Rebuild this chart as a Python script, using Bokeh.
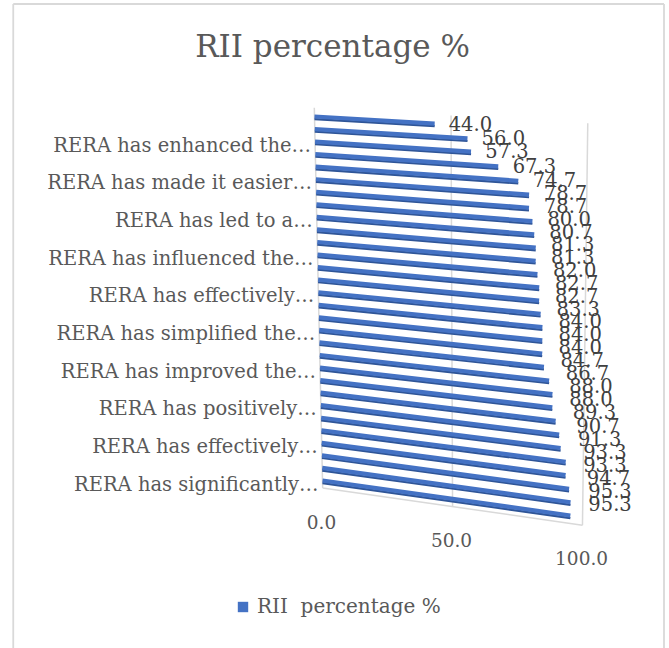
from bokeh.plotting import figure
from bokeh.models import Range1d, Legend, LegendItem, ColumnDataSource
from bokeh.core.properties import value
from bokeh.embed import file_html
from bokeh.resources import INLINE

# RII scores, listed from the first category (front, bottom) to the last (back, top)
rii_values = [95.3, 95.3, 94.7, 93.3, 93.3, 91.3, 90.7, 89.3, 88.0, 88.0,
              86.7, 84.7, 84.0, 84.0, 84.0, 83.3, 82.7, 82.7, 82.0, 81.3,
              81.3, 80.7, 80.0, 78.7, 78.7, 74.7, 67.3, 57.3, 56.0, 44.0]

# Category axis labels (every third category carries a label)
category_labels = ["RERA has significantly\u2026", "RERA has effectively\u2026",
                   "RERA has positively\u2026", "RERA has improved the\u2026",
                   "RERA has simplified the\u2026", "RERA has effectively\u2026",
                   "RERA has influenced the\u2026", "RERA has led to a\u2026",
                   "RERA has made it easier\u2026", "RERA has enhanced the\u2026"]
label_step = 3

value_ticks = [0.0, 50.0, 100.0]
value_tick_labels = ["0.0", "50.0", "100.0"]

series_name = "RII  percentage %"
chart_title = "RII  percentage %"

FONT = "DejaVu Serif"
TEXT_GRAY = "#595959"
LABEL_GRAY = "#404040"
BAR_BLUE = "#4472C4"
BAR_SHADE = "#2F5597"
GRID_GRAY = "#D9D9D9"

W, H = 669, 648
BOX_L, BOX_R, BOX_T = 12.75, 663.5, 3.5   # chart-area border

# pixel anchors of the tilted (3-D look) plot area
ORIGIN_PX = 314      # back wall, value 0
UNIT_PX = 2.67       # pixels per value unit
FRONT_PY = 480       # first category row
CAT_PX = 12.552      # pixels per category row
N = len(rii_values)


def px2x(px):
    return (px - ORIGIN_PX) / UNIT_PX


def py2y(py):
    return (FRONT_PY - py) / CAT_PX


def project(v, c):
    """Tilted position of value v on category row c."""
    t = c / (N - 1)
    x = 3.0 * (1 - t) + v * (0.974 + 0.049 * t)
    y = c - v * (0.367 - 0.207 * t) / CAT_PX
    return x, y


p = figure(width=W, height=H,
           x_range=Range1d(px2x(0), px2x(W)),
           y_range=Range1d(py2y(H), py2y(0)),
           x_axis_type=None, y_axis_type=None,
           toolbar_location=None, output_backend="svg",
           min_border=0, outline_line_color=None,
           background_fill_color="white", border_fill_color="white")

# chart-area border (left, top, right)
p.segment(x0=[px2x(BOX_L), px2x(BOX_L), px2x(BOX_R)],
          y0=[py2y(H + 2), py2y(BOX_T), py2y(BOX_T)],
          x1=[px2x(BOX_L), px2x(BOX_R), px2x(BOX_R)],
          y1=[py2y(BOX_T), py2y(BOX_T), py2y(H + 2)],
          line_color=GRID_GRAY, line_width=1.8)

# title
p.text(x=[px2x(337)], y=[py2y(45)], text=[chart_title],
       text_align="center", text_baseline="middle",
       text_font=value(FONT), text_font_size="31px", text_color=TEXT_GRAY)

# back-wall gridlines and floor edge
gx0, gy0, gx1, gy1 = [], [], [], []
for v in value_ticks:
    xa, ya = project(v, N - 1 + 0.7)
    xb, yb = project(v, -0.6)
    gx0.append(xa); gy0.append(ya); gx1.append(xb); gy1.append(yb)
fa = project(value_ticks[0], -0.6)
fb = project(value_ticks[-1], -0.6)
gx0.append(fa[0]); gy0.append(fa[1]); gx1.append(fb[0]); gy1.append(fb[1])
p.segment(x0=gx0, y0=gy0, x1=gx1, y1=gy1, line_color=GRID_GRAY, line_width=1.5)

# bars
cats = list(range(N))
x0s, y0s, x1s, y1s = [], [], [], []
for c, v in zip(cats, rii_values):
    a = project(0, c)
    b = project(v, c)
    x0s.append(a[0]); y0s.append(a[1]); x1s.append(b[0]); y1s.append(b[1])
shade = 2.6 / CAT_PX
bars = ColumnDataSource(dict(x0=x0s, y0=y0s, x1=x1s, y1=y1s,
                             y0s=[y - shade for y in y0s],
                             y1s=[y - shade for y in y1s]))
p.segment(x0="x0", y0="y0s", x1="x1", y1="y1s", source=bars,
          line_color=BAR_SHADE, line_width=2.2)
p.segment(x0="x0", y0="y0", x1="x1", y1="y1", source=bars,
          line_color=BAR_BLUE, line_width=4.2)

# value labels
lx, ly, lt = [], [], []
for c, v, xe, ye in zip(cats, rii_values, x1s, y1s):
    t = c / (N - 1)
    lx.append(xe + (14 + 4 * (1 - t)) / UNIT_PX)
    ly.append(ye + 12 * (1 - t) / CAT_PX)
    lt.append(f"{v:.1f}")
p.text(x=lx, y=ly, text=lt, text_align="left", text_baseline="middle",
       text_font=value(FONT), text_font_size="19.5px", text_color=LABEL_GRAY)

# category labels along the left wall
cx, cy = [], []
for i, lab in enumerate(category_labels):
    c = i * label_step
    cx.append(project(0, c)[0] - 4 / UNIT_PX)
    cy.append(c - 3.5 / CAT_PX)
p.text(x=cx, y=cy, text=category_labels, text_align="right", text_baseline="middle",
       text_font=value(FONT), text_font_size="19.5px", text_color=TEXT_GRAY)

# value axis labels along the floor front edge
tx, ty = [], []
for v in value_ticks:
    xf, yf = project(v, 0)
    tx.append(xf - 1 / UNIT_PX)
    ty.append(yf - 41 / CAT_PX)
p.text(x=tx, y=ty, text=value_tick_labels, text_align="center", text_baseline="middle",
       text_font=value(FONT), text_font_size="18.5px", text_color=TEXT_GRAY)

# legend swatch: an area glyph kept outside the visible range
swatch = p.quad(left=[px2x(-120)], right=[px2x(-110)],
                bottom=[py2y(-110)], top=[py2y(-120)],
                fill_color=BAR_BLUE, line_color=None)
legend = Legend(items=[LegendItem(label=series_name, renderers=[swatch])],
                location=(236, 30), orientation="horizontal",
                padding=0, margin=0, spacing=0,
                glyph_width=13, glyph_height=13, label_standoff=8,
                border_line_color=None, background_fill_alpha=0,
                label_text_font=FONT, label_text_font_size="20px",
                label_text_color=TEXT_GRAY)
p.add_layout(legend, "center")

open("out.html", "w").write(file_html(p, INLINE))
